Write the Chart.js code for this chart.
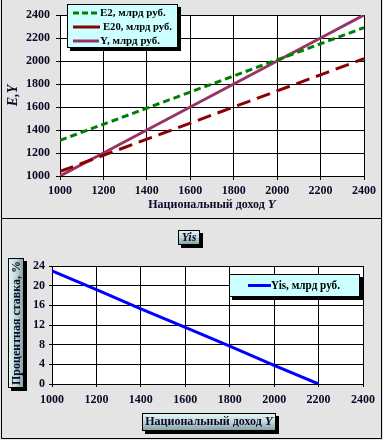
<!DOCTYPE html>
<html><head><meta charset="utf-8">
<script src="https://cdn.jsdelivr.net/npm/chart.js@4"></script>
<style>
html,body{margin:0;padding:0;background:#e4e4e4;width:383px;height:440px;overflow:hidden}
#c1{position:absolute;left:0;top:0}
#c2{position:absolute;left:0;top:219px}
</style></head><body>
<canvas id="c1" width="383" height="219"></canvas>
<canvas id="c2" width="383" height="221"></canvas>
<script>
// ---- data ----
const incomeY = [1000,1200,1400,1600,1800,2000,2200,2400];
const e2 = [1310,1450,1590,1730,1870,2010,2150,2290];
const e20 = [1040,1180,1320,1460,1600,1740,1880,2020];
const yLine = [1000,1200,1400,1600,1800,2000,2200,2400];
const rateIncome = [1000,1200,1400,1600,1800,2000,2200];
const yis = [23,19.2,15.3,11.5,7.7,3.8,0];
const names1 = ['E2, млрд руб.','E20, млрд руб.','Y, млрд руб.'];
const name2 = 'Yis, млрд руб.';
const xTitleMain = 'Национальный доход ';
const xTitleItalic = 'Y';
const yTitleTop = 'E,Y';
const yTitleBottom = 'Процентная ставка, %';
const chartTitleBottom = 'Yis';

const SERIF = '"Liberation Serif","Times New Roman",serif';
const TXT = '#0a0a28';
Chart.defaults.font.family = SERIF;
Chart.defaults.color = TXT;

function pts(xs, ys){ return xs.map((x,i)=>({x:x,y:ys[i]})); }
const plain = v => String(v);

function mixedText(ctx, parts, cx, cy){
  let w = 0;
  parts.forEach(p=>{ ctx.font = p.font; w += ctx.measureText(p.t).width; });
  let x = cx - w/2;
  ctx.textBaseline = 'middle'; ctx.textAlign = 'left';
  parts.forEach(p=>{ ctx.font = p.font; ctx.fillText(p.t, x, cy); x += ctx.measureText(p.t).width; });
}
function gradBox(ctx, x, y, w, h, vertical){
  ctx.fillStyle = '#000';
  ctx.fillRect(x+3, y+3, w, h);
  const g = vertical ? ctx.createLinearGradient(x,0,x+w,0) : ctx.createLinearGradient(0,y,0,y+h);
  g.addColorStop(0,'#e8f6f6'); g.addColorStop(0.45,'#c4dcdc'); g.addColorStop(1,'#7e9c9e');
  ctx.fillStyle = g; ctx.fillRect(x, y, w, h);
  ctx.strokeStyle = '#000'; ctx.lineWidth = 1;
  ctx.strokeRect(x+0.5, y+0.5, w-1, h-1);
}

const whiteArea = {
  id:'whiteArea',
  beforeDraw(chart){
    const {ctx, chartArea:a} = chart;
    ctx.save(); ctx.fillStyle = '#fff';
    ctx.fillRect(a.left, a.top, a.right-a.left, a.bottom-a.top);
    ctx.restore();
  }
};

// ---- top chart ----
const topDeco = {
  id:'topDeco',
  afterDraw(chart){
    const {ctx, chartArea:a} = chart;
    ctx.save();
    ctx.strokeStyle = '#000'; ctx.lineWidth = 1;
    ctx.beginPath();
    ctx.moveTo(1.5,0); ctx.lineTo(1.5,218.5); ctx.lineTo(381.5,218.5); ctx.lineTo(381.5,0);
    ctx.stroke();
    ctx.fillStyle = TXT;
    mixedText(ctx, [{t:xTitleMain, font:'bold 12px '+SERIF},{t:xTitleItalic, font:'italic bold 13px '+SERIF}], (a.left+a.right)/2, 205);
    ctx.save(); ctx.translate(13, (a.top+a.bottom)/2); ctx.rotate(-Math.PI/2);
    mixedText(ctx, [{t:yTitleTop, font:'italic bold 14px '+SERIF}], 0, 0);
    ctx.restore();
    // legend
    const lx=67, ly=4, lw=111, lh=44;
    ctx.fillStyle='#000'; ctx.fillRect(lx+3, ly+3, lw, lh);
    ctx.fillStyle='#ccffff'; ctx.fillRect(lx, ly, lw, lh);
    ctx.strokeStyle='#000'; ctx.strokeRect(lx+0.5, ly+0.5, lw-1, lh-1);
    const rows=[13,27,41];
    const tx=[100,103,100];
    chart.data.datasets.forEach((ds,i)=>{
      ctx.strokeStyle = ds.borderColor; ctx.lineWidth = 3;
      ctx.setLineDash(i===0 ? [6,3] : []);
      ctx.beginPath(); ctx.moveTo(73, rows[i]); ctx.lineTo(i===1?100:99, rows[i]); ctx.stroke();
      ctx.setLineDash([]);
      ctx.fillStyle = '#000'; ctx.font = 'bold 11px '+SERIF;
      ctx.textAlign='left'; ctx.textBaseline='middle';
      ctx.fillText(ds.label, tx[i], rows[i], 172-tx[i]);
    });
    ctx.restore();
  }
};

new Chart(document.getElementById('c1'), {
  type:'line',
  data:{datasets:[
    {label:names1[0], data:pts(incomeY,e2), borderColor:'#008000', borderWidth:3, borderDash:[7,4], pointRadius:0, fill:false},
    {label:names1[1], data:pts(incomeY,e20), borderColor:'#8b0000', borderWidth:3, borderDash:[14,7], pointRadius:0, fill:false},
    {label:names1[2], data:pts(incomeY,yLine), borderColor:'#993366', borderWidth:3, pointRadius:0, fill:false}
  ]},
  options:{
    responsive:false, animation:false, devicePixelRatio:1,
    layout:{padding:{left:0, right:19, top:15, bottom:0}},
    plugins:{legend:{display:false}, tooltip:{enabled:false}},
    scales:{
      x:{type:'linear', min:1000, max:2400,
        ticks:{stepSize:200, padding:4, font:{size:12, weight:'bold'}, color:TXT, maxRotation:0, callback:plain},
        grid:{color:'#000', lineWidth:1, tickLength:4},
        border:{color:'#000'},
        afterFit(s){ s.height = 43; }},
      y:{type:'linear', min:1000, max:2400,
        ticks:{stepSize:200, padding:6, font:{size:12, weight:'bold'}, color:TXT, callback:plain},
        grid:{color:'#000', lineWidth:1, tickLength:4},
        border:{color:'#000'},
        afterFit(s){ s.width = 60; }}
    }
  },
  plugins:[whiteArea, topDeco]
});

// ---- bottom chart ----
const botDeco = {
  id:'botDeco',
  afterDraw(chart){
    const {ctx, chartArea:a} = chart;
    ctx.save();
    ctx.strokeStyle = '#000'; ctx.lineWidth = 1;
    ctx.beginPath();
    ctx.moveTo(1.5,0); ctx.lineTo(1.5,219.5); ctx.lineTo(381.5,219.5); ctx.lineTo(381.5,0);
    ctx.stroke();
    gradBox(ctx, 178, 11, 22, 15, false);
    ctx.fillStyle = TXT;
    mixedText(ctx, [{t:chartTitleBottom, font:'italic bold 12px '+SERIF}], 189, 18.5);
    gradBox(ctx, 8, 39, 16, 130, true);
    ctx.save(); ctx.translate(16.5, 104); ctx.rotate(-Math.PI/2);
    ctx.fillStyle = TXT;
    mixedText(ctx, [{t:yTitleBottom, font:'bold 12px '+SERIF}], 0, 0);
    ctx.restore();
    gradBox(ctx, 142, 194, 134, 18, false);
    ctx.fillStyle = TXT;
    mixedText(ctx, [{t:xTitleMain, font:'bold 12px '+SERIF},{t:xTitleItalic, font:'italic bold 13px '+SERIF}], 209, 203);
    // legend
    const lx=229, ly=55, lw=131, lh=23;
    ctx.fillStyle='#000'; ctx.fillRect(lx+3, ly+3, lw, lh);
    ctx.fillStyle='#ccffff'; ctx.fillRect(lx, ly, lw, lh);
    ctx.strokeStyle='#000'; ctx.lineWidth=1; ctx.strokeRect(lx+0.5, ly+0.5, lw-1, lh-1);
    const ds = chart.data.datasets[0];
    ctx.strokeStyle = ds.borderColor; ctx.lineWidth = 3;
    ctx.beginPath(); ctx.moveTo(248, 66.5); ctx.lineTo(271, 66.5); ctx.stroke();
    ctx.fillStyle='#000'; ctx.font='bold 12px '+SERIF; ctx.textAlign='left'; ctx.textBaseline='middle';
    ctx.fillText(ds.label, 271, 66.5, 69);
    ctx.restore();
  }
};

new Chart(document.getElementById('c2'), {
  type:'line',
  data:{datasets:[
    {label:name2, data:pts(rateIncome,yis), borderColor:'#0000ff', borderWidth:3, pointRadius:0, fill:false}
  ]},
  options:{
    responsive:false, animation:false, devicePixelRatio:1,
    layout:{padding:{left:28, right:20, top:47, bottom:0}},
    plugins:{legend:{display:false}, tooltip:{enabled:false}},
    scales:{
      x:{type:'linear', min:1000, max:2400,
        ticks:{stepSize:200, padding:6, font:{size:12, weight:'bold'}, color:TXT, maxRotation:0, callback:plain},
        grid:{color:'#000', lineWidth:1, tickLength:3},
        border:{color:'#000'},
        afterFit(s){ s.height = 56; }},
      y:{type:'linear', min:0, max:24,
        ticks:{stepSize:4, padding:4, font:{size:12, weight:'bold'}, color:TXT, callback:plain},
        grid:{color:'#000', lineWidth:1, tickLength:3},
        border:{color:'#000'},
        afterFit(s){ s.width = 24; }}
    }
  },
  plugins:[whiteArea, botDeco]
});
</script>
</body></html>
